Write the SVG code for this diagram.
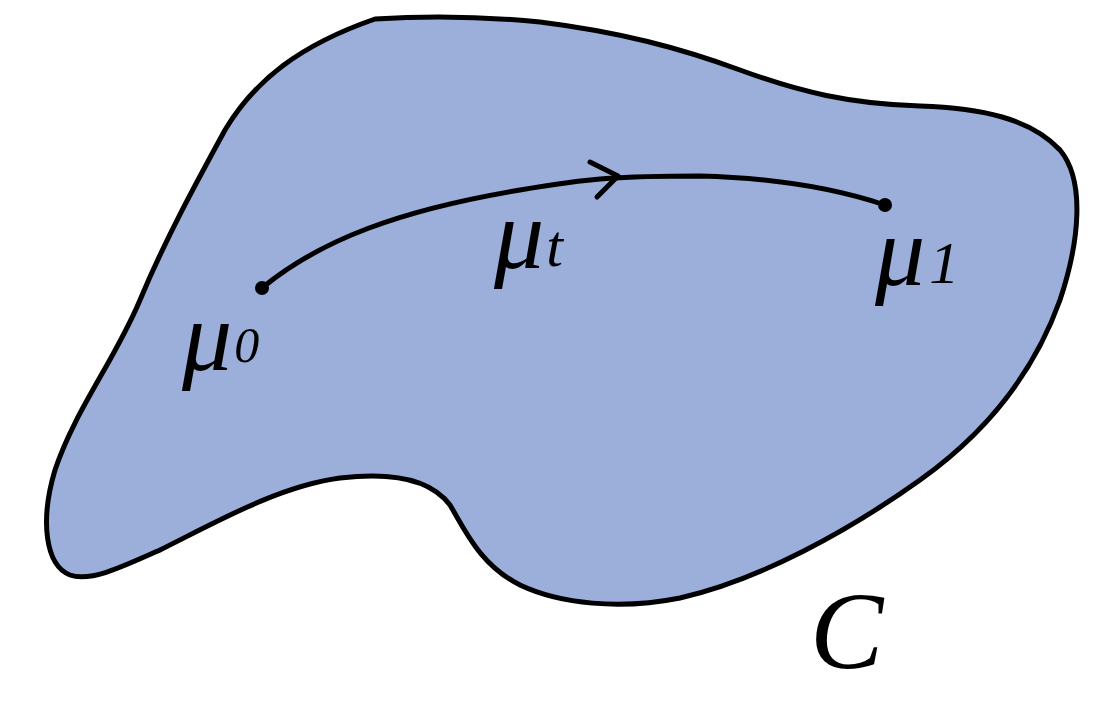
<svg xmlns="http://www.w3.org/2000/svg" width="1116" height="701" viewBox="0 0 1116 701">
<style>
.ink{fill:none;stroke:#000;stroke-width:5;stroke-linecap:round;stroke-linejoin:round}
.lbl{font-family:"Liberation Serif","DejaVu Serif",serif;font-style:italic;fill:#000}
</style>
<rect width="1116" height="701" fill="#fff"/>
<g id="region">
<path d="M375,19 C420,16 480,16 540,22 C620,32 680,48 740,70 C800,92 850,104 920,106 C980,108 1030,118 1060,150 C1085,180 1080,240 1060,300 C1035,370 990,430 920,480 C850,530 760,580 680,598 C620,610 560,604 520,585 C480,565 465,530 450,505 C430,478 390,472 340,478 C280,486 220,520 160,550 C120,568 90,582 70,575 C45,565 40,520 55,470 C75,410 115,360 140,300 C165,240 195,185 225,130 C255,80 300,45 375,19 Z" fill="#9BAFDA" stroke="#000" stroke-width="5" stroke-linejoin="round"/>
</g>
<g id="connectors">
<path class="ink" d="M262,288 C320,240 400,210 520,190 C590,178 620,176 700,176 C780,178 840,190 885,205"/>
<path class="ink" d="M590,162 L618,176 L597,197"/>
</g>
<g id="mu0">
<circle cx="262" cy="288" r="7" fill="#000"/>
<text class="lbl" x="182" y="370" font-size="100">μ<tspan font-size="50" dx="2" dy="-8">0</tspan></text>
</g>
<g id="mut">
<text class="lbl" x="494" y="268" font-size="100">μ<tspan font-size="60" dx="2" dy="-2">t</tspan></text>
</g>
<g id="mu1">
<circle cx="885" cy="205" r="7" fill="#000"/>
<text class="lbl" x="875" y="285" font-size="100">μ<tspan font-size="60" dx="4" dy="-2">1</tspan></text>
</g>
<g id="C">
<text class="lbl" x="810" y="668" font-size="110">C</text>
</g>
</svg>
